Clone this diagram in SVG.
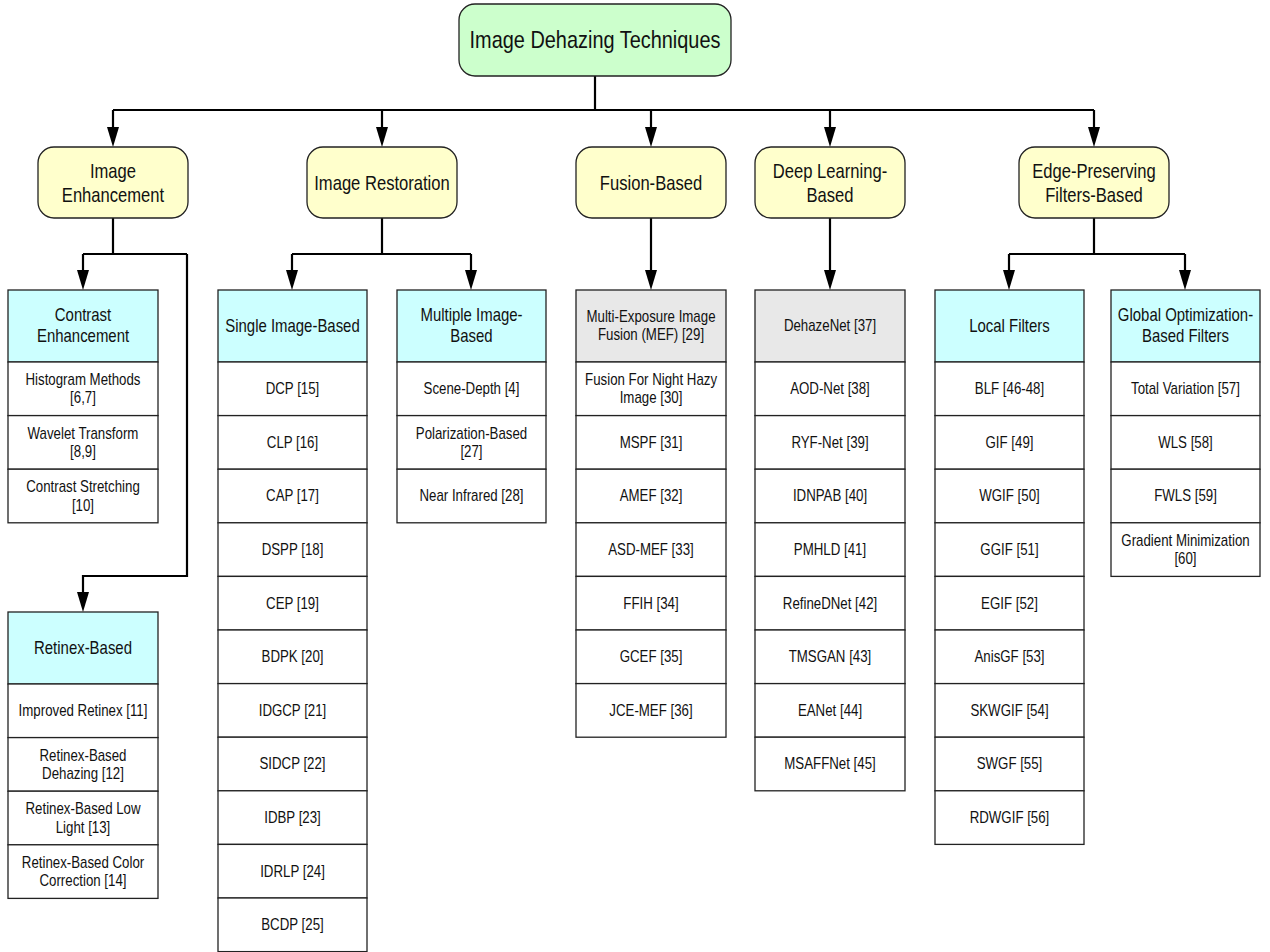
<svg xmlns="http://www.w3.org/2000/svg" width="1270" height="952" viewBox="0 0 1270 952">
<style>
text{font-family:"Liberation Sans Narrow","Arial Narrow","Liberation Sans",sans-serif;fill:#111;text-anchor:middle;dominant-baseline:central;transform-box:fill-box;transform-origin:center;transform:scaleX(0.83)}
.t24{font-size:24px}.t20{font-size:20px}.t18{font-size:18px}.t16{font-size:16px}
.node rect{stroke:#222;stroke-width:1.3}
.root{fill:#ccffcc}.cat{fill:#ffffcc}.hdr{fill:#ccffff}.gry{fill:#e8e8e8}.itm{fill:#ffffff}
.conn path{fill:none;stroke:#000;stroke-width:2.2;marker-end:url(#arr)}
.conn path.plain{marker-end:none}
</style>
<defs>
<marker id="arr" markerUnits="userSpaceOnUse" viewBox="0 0 20 12" markerWidth="20" markerHeight="12" refX="2" refY="6" orient="auto">
<path d="M0,0 L20,6 L0,12 z" fill="#000"/>
</marker>
</defs>
<rect x="0" y="0" width="1270" height="952" fill="#fff"/>

<g class="conn" id="connectors">
<path class="plain" d="M595,76 V110 M113,110 H1094"/>
<path d="M113,110 V129"/>
<path d="M382,110 V129"/>
<path d="M651,110 V129"/>
<path d="M830,110 V129"/>
<path d="M1094,110 V129"/>
<path class="plain" d="M113,218 V254 M83,254 H187"/>
<path d="M83,254 V272"/>
<path d="M187,254 V576 H83 V594"/>
<path class="plain" d="M382,218 V254 M292,254 H471"/>
<path d="M292,254 V272"/>
<path d="M471,254 V272"/>
<path d="M651,218 V272"/>
<path d="M830,218 V272"/>
<path class="plain" d="M1094,218 V254 M1009,254 H1185"/>
<path d="M1009,254 V272"/>
<path d="M1185,254 V272"/>
</g>

<g class="node" id="root"><rect class="root" x="459" y="4" width="272" height="72" rx="16"/><text class="t24" x="595" y="40">Image Dehazing Techniques</text></g>

<g class="node" id="cat-enhancement"><rect class="cat" x="38" y="147" width="150" height="71" rx="16"/><text class="t20" x="113" y="171">Image</text><text class="t20" x="113" y="194.5">Enhancement</text></g>
<g class="node" id="cat-restoration"><rect class="cat" x="307" y="147" width="150" height="71" rx="16"/><text class="t20" x="382" y="182.5">Image Restoration</text></g>
<g class="node" id="cat-fusion"><rect class="cat" x="576" y="147" width="150" height="71" rx="16"/><text class="t20" x="651" y="182.5">Fusion-Based</text></g>
<g class="node" id="cat-deep"><rect class="cat" x="755" y="147" width="150" height="71" rx="16"/><text class="t20" x="830" y="171">Deep Learning-</text><text class="t20" x="830" y="194.5">Based</text></g>
<g class="node" id="cat-edge"><rect class="cat" x="1019" y="147" width="150" height="71" rx="16"/><text class="t20" x="1094" y="171">Edge-Preserving</text><text class="t20" x="1094" y="194.5">Filters-Based</text></g>

<!-- Contrast Enhancement column -->
<g class="node" id="contrast-enhancement"><rect class="hdr" x="8" y="290" width="150" height="72"/><text class="t18" x="83" y="315.5">Contrast</text><text class="t18" x="83" y="336.5">Enhancement</text></g>
<g class="node" id="histogram"><rect class="itm" x="8" y="362" width="150" height="53.6"/><text class="t16" x="83" y="379.5">Histogram Methods</text><text class="t16" x="83" y="398">[6,7]</text></g>
<g class="node" id="wavelet"><rect class="itm" x="8" y="415.6" width="150" height="53.6"/><text class="t16" x="83" y="433.1">Wavelet Transform</text><text class="t16" x="83" y="451.6">[8,9]</text></g>
<g class="node" id="stretching"><rect class="itm" x="8" y="469.2" width="150" height="53.6"/><text class="t16" x="83" y="486.7">Contrast Stretching</text><text class="t16" x="83" y="505.2">[10]</text></g>

<!-- Retinex column -->
<g class="node" id="retinex-based"><rect class="hdr" x="8" y="612" width="150" height="72"/><text class="t18" x="83" y="648">Retinex-Based</text></g>
<g class="node" id="improved-retinex"><rect class="itm" x="8" y="684" width="150" height="53.6"/><text class="t16" x="83" y="710.8">Improved Retinex [11]</text></g>
<g class="node" id="retinex-dehazing"><rect class="itm" x="8" y="737.6" width="150" height="53.6"/><text class="t16" x="83" y="755.1">Retinex-Based</text><text class="t16" x="83" y="773.6">Dehazing [12]</text></g>
<g class="node" id="retinex-lowlight"><rect class="itm" x="8" y="791.2" width="150" height="53.6"/><text class="t16" x="83" y="808.7">Retinex-Based Low</text><text class="t16" x="83" y="827.2">Light [13]</text></g>
<g class="node" id="retinex-color"><rect class="itm" x="8" y="844.8" width="150" height="53.6"/><text class="t16" x="83" y="862.3">Retinex-Based Color</text><text class="t16" x="83" y="880.8">Correction [14]</text></g>

<!-- Single Image-Based column -->
<g class="node" id="single-image"><rect class="hdr" x="218" y="290" width="149" height="72"/><text class="t18" x="292.5" y="326">Single Image-Based</text></g>
<g class="node" id="dcp"><rect class="itm" x="218" y="362" width="149" height="53.6"/><text class="t16" x="292.5" y="388.8">DCP [15]</text></g>
<g class="node" id="clp"><rect class="itm" x="218" y="415.6" width="149" height="53.6"/><text class="t16" x="292.5" y="442.4">CLP [16]</text></g>
<g class="node" id="cap"><rect class="itm" x="218" y="469.2" width="149" height="53.6"/><text class="t16" x="292.5" y="496">CAP [17]</text></g>
<g class="node" id="dspp"><rect class="itm" x="218" y="522.8" width="149" height="53.6"/><text class="t16" x="292.5" y="549.6">DSPP [18]</text></g>
<g class="node" id="cep"><rect class="itm" x="218" y="576.4" width="149" height="53.6"/><text class="t16" x="292.5" y="603.2">CEP [19]</text></g>
<g class="node" id="bdpk"><rect class="itm" x="218" y="630" width="149" height="53.6"/><text class="t16" x="292.5" y="656.8">BDPK [20]</text></g>
<g class="node" id="idgcp"><rect class="itm" x="218" y="683.6" width="149" height="53.6"/><text class="t16" x="292.5" y="710.4">IDGCP [21]</text></g>
<g class="node" id="sidcp"><rect class="itm" x="218" y="737.2" width="149" height="53.6"/><text class="t16" x="292.5" y="764">SIDCP [22]</text></g>
<g class="node" id="idbp"><rect class="itm" x="218" y="790.8" width="149" height="53.6"/><text class="t16" x="292.5" y="817.6">IDBP [23]</text></g>
<g class="node" id="idrlp"><rect class="itm" x="218" y="844.4" width="149" height="53.6"/><text class="t16" x="292.5" y="871.2">IDRLP [24]</text></g>
<g class="node" id="bcdp"><rect class="itm" x="218" y="898" width="149" height="53.6"/><text class="t16" x="292.5" y="924.8">BCDP [25]</text></g>

<!-- Multiple Image-Based column -->
<g class="node" id="multiple-image"><rect class="hdr" x="397" y="290" width="149" height="72"/><text class="t18" x="471.5" y="315.5">Multiple Image-</text><text class="t18" x="471.5" y="336.5">Based</text></g>
<g class="node" id="scene-depth"><rect class="itm" x="397" y="362" width="149" height="53.6"/><text class="t16" x="471.5" y="388.8">Scene-Depth [4]</text></g>
<g class="node" id="polarization"><rect class="itm" x="397" y="415.6" width="149" height="53.6"/><text class="t16" x="471.5" y="433.1">Polarization-Based</text><text class="t16" x="471.5" y="451.6">[27]</text></g>
<g class="node" id="near-infrared"><rect class="itm" x="397" y="469.2" width="149" height="53.6"/><text class="t16" x="471.5" y="496">Near Infrared [28]</text></g>

<!-- Fusion column -->
<g class="node" id="mef"><rect class="gry" x="576" y="290" width="150" height="72"/><text class="t16" x="651" y="316.5">Multi-Exposure Image</text><text class="t16" x="651" y="335">Fusion (MEF) [29]</text></g>
<g class="node" id="night-hazy"><rect class="itm" x="576" y="362" width="150" height="53.6"/><text class="t16" x="651" y="379.5">Fusion For Night Hazy</text><text class="t16" x="651" y="398">Image [30]</text></g>
<g class="node" id="mspf"><rect class="itm" x="576" y="415.6" width="150" height="53.6"/><text class="t16" x="651" y="442.4">MSPF [31]</text></g>
<g class="node" id="amef"><rect class="itm" x="576" y="469.2" width="150" height="53.6"/><text class="t16" x="651" y="496">AMEF [32]</text></g>
<g class="node" id="asd-mef"><rect class="itm" x="576" y="522.8" width="150" height="53.6"/><text class="t16" x="651" y="549.6">ASD-MEF [33]</text></g>
<g class="node" id="ffih"><rect class="itm" x="576" y="576.4" width="150" height="53.6"/><text class="t16" x="651" y="603.2">FFIH [34]</text></g>
<g class="node" id="gcef"><rect class="itm" x="576" y="630" width="150" height="53.6"/><text class="t16" x="651" y="656.8">GCEF [35]</text></g>
<g class="node" id="jce-mef"><rect class="itm" x="576" y="683.6" width="150" height="53.6"/><text class="t16" x="651" y="710.4">JCE-MEF [36]</text></g>

<!-- Deep Learning column -->
<g class="node" id="dehazenet"><rect class="gry" x="755" y="290" width="150" height="72"/><text class="t16" x="830" y="326">DehazeNet [37]</text></g>
<g class="node" id="aod-net"><rect class="itm" x="755" y="362" width="150" height="53.6"/><text class="t16" x="830" y="388.8">AOD-Net [38]</text></g>
<g class="node" id="ryf-net"><rect class="itm" x="755" y="415.6" width="150" height="53.6"/><text class="t16" x="830" y="442.4">RYF-Net [39]</text></g>
<g class="node" id="idnpab"><rect class="itm" x="755" y="469.2" width="150" height="53.6"/><text class="t16" x="830" y="496">IDNPAB [40]</text></g>
<g class="node" id="pmhld"><rect class="itm" x="755" y="522.8" width="150" height="53.6"/><text class="t16" x="830" y="549.6">PMHLD [41]</text></g>
<g class="node" id="refinednet"><rect class="itm" x="755" y="576.4" width="150" height="53.6"/><text class="t16" x="830" y="603.2">RefineDNet [42]</text></g>
<g class="node" id="tmsgan"><rect class="itm" x="755" y="630" width="150" height="53.6"/><text class="t16" x="830" y="656.8">TMSGAN [43]</text></g>
<g class="node" id="eanet"><rect class="itm" x="755" y="683.6" width="150" height="53.6"/><text class="t16" x="830" y="710.4">EANet [44]</text></g>
<g class="node" id="msaffnet"><rect class="itm" x="755" y="737.2" width="150" height="53.6"/><text class="t16" x="830" y="764">MSAFFNet [45]</text></g>

<!-- Local Filters column -->
<g class="node" id="local-filters"><rect class="hdr" x="935" y="290" width="149" height="72"/><text class="t18" x="1009.5" y="326">Local Filters</text></g>
<g class="node" id="blf"><rect class="itm" x="935" y="362" width="149" height="53.6"/><text class="t16" x="1009.5" y="388.8">BLF [46-48]</text></g>
<g class="node" id="gif"><rect class="itm" x="935" y="415.6" width="149" height="53.6"/><text class="t16" x="1009.5" y="442.4">GIF [49]</text></g>
<g class="node" id="wgif"><rect class="itm" x="935" y="469.2" width="149" height="53.6"/><text class="t16" x="1009.5" y="496">WGIF [50]</text></g>
<g class="node" id="ggif"><rect class="itm" x="935" y="522.8" width="149" height="53.6"/><text class="t16" x="1009.5" y="549.6">GGIF [51]</text></g>
<g class="node" id="egif"><rect class="itm" x="935" y="576.4" width="149" height="53.6"/><text class="t16" x="1009.5" y="603.2">EGIF [52]</text></g>
<g class="node" id="anisgf"><rect class="itm" x="935" y="630" width="149" height="53.6"/><text class="t16" x="1009.5" y="656.8">AnisGF [53]</text></g>
<g class="node" id="skwgif"><rect class="itm" x="935" y="683.6" width="149" height="53.6"/><text class="t16" x="1009.5" y="710.4">SKWGIF [54]</text></g>
<g class="node" id="swgf"><rect class="itm" x="935" y="737.2" width="149" height="53.6"/><text class="t16" x="1009.5" y="764">SWGF [55]</text></g>
<g class="node" id="rdwgif"><rect class="itm" x="935" y="790.8" width="149" height="53.6"/><text class="t16" x="1009.5" y="817.6">RDWGIF [56]</text></g>

<!-- Global Optimization column -->
<g class="node" id="global-filters"><rect class="hdr" x="1111" y="290" width="149" height="72"/><text class="t18" x="1185.5" y="315.5">Global Optimization-</text><text class="t18" x="1185.5" y="336.5">Based Filters</text></g>
<g class="node" id="total-variation"><rect class="itm" x="1111" y="362" width="149" height="53.6"/><text class="t16" x="1185.5" y="388.8">Total Variation [57]</text></g>
<g class="node" id="wls"><rect class="itm" x="1111" y="415.6" width="149" height="53.6"/><text class="t16" x="1185.5" y="442.4">WLS [58]</text></g>
<g class="node" id="fwls"><rect class="itm" x="1111" y="469.2" width="149" height="53.6"/><text class="t16" x="1185.5" y="496">FWLS [59]</text></g>
<g class="node" id="gradient-min"><rect class="itm" x="1111" y="522.8" width="149" height="53.6"/><text class="t16" x="1185.5" y="540.3">Gradient Minimization</text><text class="t16" x="1185.5" y="558.8">[60]</text></g>
</svg>
